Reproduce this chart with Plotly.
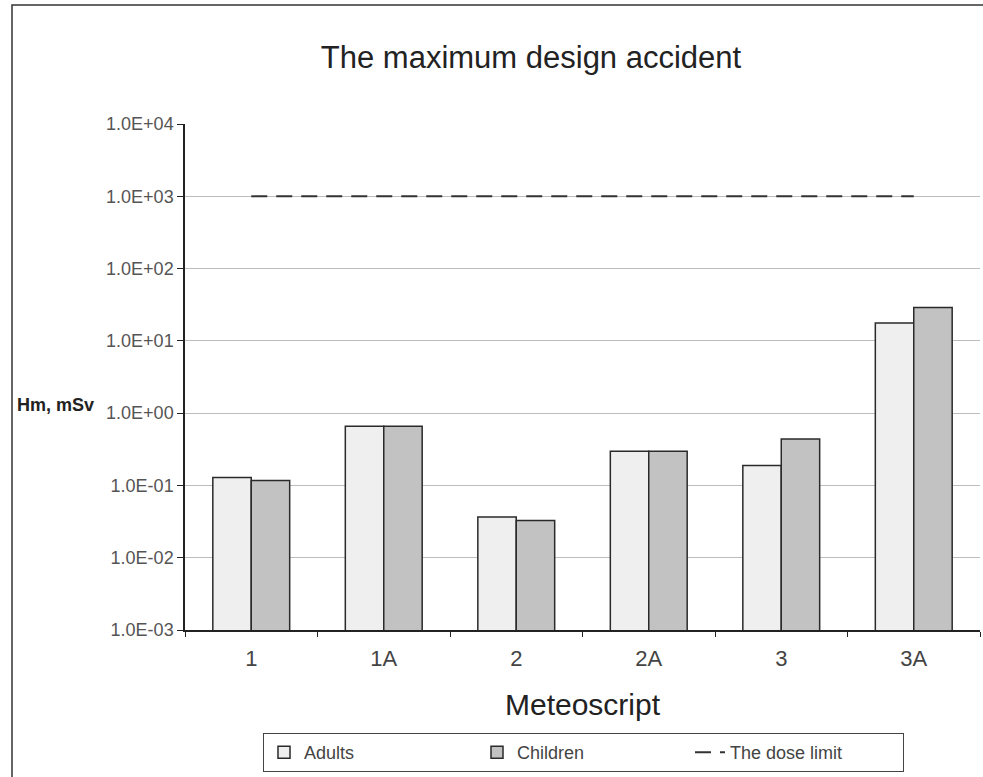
import plotly.graph_objects as go

categories = ["1", "1A", "2", "2A", "3", "3A"]
adults = [0.129, 0.66, 0.0366, 0.298, 0.189, 17.6]
children = [0.117, 0.66, 0.0328, 0.298, 0.44, 28.9]
dose_limit = [1000, 1000, 1000, 1000, 1000, 1000]
ytick_vals = [1e-3, 1e-2, 1e-1, 1e0, 1e1, 1e2, 1e3, 1e4]
ytick_text = ["1.0E-03", "1.0E-02", "1.0E-01", "1.0E+00", "1.0E+01", "1.0E+02", "1.0E+03", "1.0E+04"]

W, H = 983, 777
L, R, T, B = 185, 3, 124, 147
pw, ph = W - L - R, H - T - B

def px(x):
    return (x - L) / pw

def py(y):
    return (H - B - y) / ph

font = "Liberation Sans, Arial, sans-serif"

fig = go.Figure()
fig.add_trace(go.Bar(
    x=categories, y=adults, name="Adults",
    marker=dict(color="#efefef", line=dict(color="#2a2a2a", width=1.5)),
))
fig.add_trace(go.Bar(
    x=categories, y=children, name="Children",
    marker=dict(color="#c2c2c2", line=dict(color="#2a2a2a", width=1.5)),
))
fig.add_trace(go.Scatter(
    x=categories, y=dose_limit, name="The dose limit", mode="lines",
    line=dict(color="#333333", width=2, dash="16px,9px"),
))

fig.update_layout(
    width=W, height=H,
    margin=dict(l=L, r=R, t=T, b=B),
    paper_bgcolor="white", plot_bgcolor="white",
    font=dict(family=font, color="#333333"),
    barmode="group", bargap=0.42, bargroupgap=0,
    title=dict(text="The maximum design accident", x=531 / W, xanchor="center",
               y=1 - 57 / H, yanchor="middle", yref="container",
               font=dict(size=31, color="#222222")),
    showlegend=True,
    legend=dict(orientation="h", x=px(263), xanchor="left", y=py(733), yanchor="top",
                bordercolor="#444444", borderwidth=1, bgcolor="white",
                font=dict(size=18, color="#444444"),
                entrywidth=168, entrywidthmode="pixels",
                traceorder="normal"),
    xaxis=dict(
        type="category", showline=True, linecolor="#222222", linewidth=1.5,
        ticks="outside", ticklen=5, tickcolor="#222222", tickson="boundaries",
        tickfont=dict(size=22, color="#444444"), ticklabelstandoff=8,
        showgrid=False,
        title=dict(text="Meteoscript", font=dict(size=30, color="#222222"), standoff=24),
        range=[-0.5, 5.5],
    ),
    yaxis=dict(
        type="log", range=[-3, 4],
        tickvals=ytick_vals, ticktext=ytick_text,
        showline=True, linecolor="#222222", linewidth=1.5,
        ticks="outside", ticklen=6, tickcolor="#222222",
        tickfont=dict(size=18, color="#555555"),
        showgrid=True, gridcolor="#bdbdbd", gridwidth=1,
        zeroline=False,
    ),
)

fig.add_annotation(text="<b>Hm, mSv</b>", xref="paper", yref="paper",
                   x=px(15), xanchor="left", y=py(405), yanchor="middle",
                   showarrow=False, font=dict(size=18, color="#222222", family=font))

fig.add_shape(type="rect", xref="paper", yref="paper",
              x0=px(12), x1=px(990), y0=py(790), y1=py(5),
              line=dict(color="#333333", width=1.5), fillcolor="rgba(0,0,0,0)", layer="below")

fig.write_html("out.html", config={"displayModeBar": False},
               post_script="document.body.style.margin='0';document.body.style.overflow='hidden';")
